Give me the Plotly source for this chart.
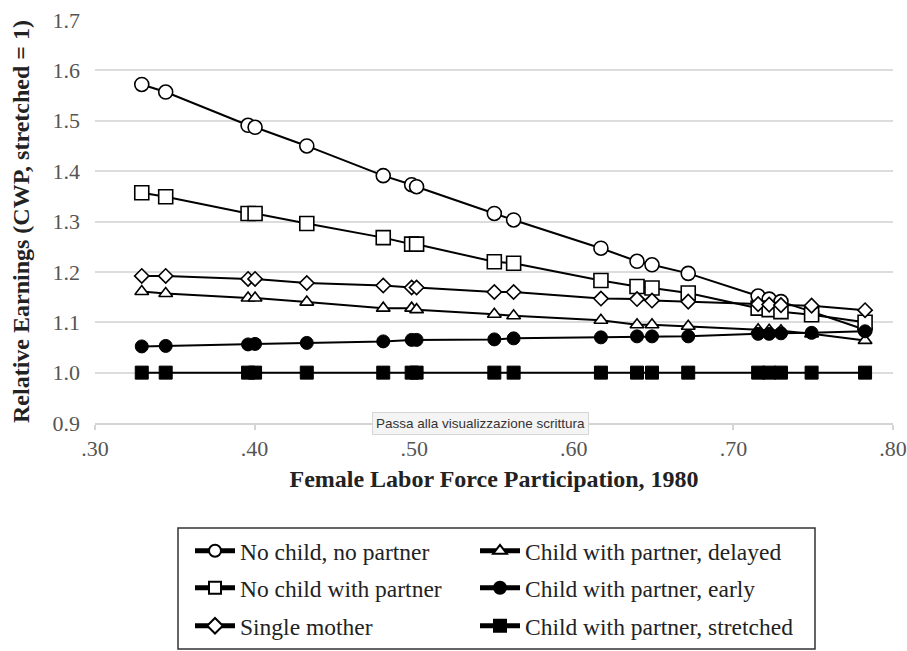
import plotly.graph_objects as go

# ---- data ----
participation = [0.3293, 0.3443, 0.3959, 0.4003, 0.4327, 0.4806, 0.4984, 0.5015, 0.5502, 0.5623,
                 0.6170, 0.6396, 0.6490, 0.6717, 0.7155, 0.7224, 0.7298, 0.7490, 0.7825]

no_child_no_partner = [1.572, 1.557, 1.491, 1.487, 1.450, 1.391, 1.373, 1.369, 1.316, 1.303,
                       1.247, 1.221, 1.214, 1.197, 1.152, 1.146, 1.141, 1.121, 1.085]
no_child_with_partner = [1.357, 1.349, 1.316, 1.316, 1.296, 1.268, 1.255, 1.255, 1.220, 1.217,
                         1.183, 1.171, 1.168, 1.158, 1.128, 1.125, 1.121, 1.115, 1.100]
single_mother = [1.192, 1.192, 1.186, 1.186, 1.178, 1.173, 1.169, 1.169, 1.160, 1.160,
                 1.147, 1.146, 1.143, 1.141, 1.136, 1.135, 1.134, 1.133, 1.124]
child_partner_delayed = [1.161, 1.157, 1.148, 1.148, 1.140, 1.128, 1.128, 1.125, 1.116, 1.113,
                         1.104, 1.095, 1.095, 1.092, 1.085, 1.084, 1.083, 1.077, 1.064]
child_partner_early = [1.052, 1.053, 1.056, 1.057, 1.059, 1.062, 1.065, 1.065, 1.066, 1.068,
                       1.070, 1.072, 1.072, 1.072, 1.077, 1.077, 1.078, 1.079, 1.082]
child_partner_stretched = [1.000] * len(participation)

series_names = ["No child, no partner", "No child with partner", "Single mother",
                "Child with partner, delayed", "Child with partner, early",
                "Child with partner, stretched"]

x_tickvals = [0.30, 0.40, 0.50, 0.60, 0.70, 0.80]
x_ticktext = [".30", ".40", ".50", ".60", ".70", ".80"]

x_title = "Female Labor Force Participation, 1980"
y_title = "Relative Earnings (CWP, stretched = 1)"
tooltip_text = "Passa alla visualizzazione scrittura"

# ---- figure geometry (body margin removed in post_script) ----
W, H = 907, 651
ML, MR, MT, MB = 95, 14, 20, 228
PW, PH = W - ML - MR, H - MT - MB


def px_x(p):
    return (p - ML) / PW


def px_y(p):
    return (H - MB - p) / PH


SERIF = "Liberation Serif"

styles = [
    dict(symbol="circle", size=14, color="white", lw=1.6),
    dict(symbol="square", size=14, color="white", lw=1.6),
    dict(symbol="diamond", size=11, color="white", lw=1.6),
    dict(symbol="triangle-up", size=12, color="white", lw=1.6),
    dict(symbol="circle", size=13, color="black", lw=1),
    dict(symbol="square", size=13, color="black", lw=1),
]
values = [no_child_no_partner, no_child_with_partner, single_mother,
          child_partner_delayed, child_partner_early, child_partner_stretched]
legend_ids = ["legend", "legend3", "legend5", "legend2", "legend4", "legend6"]

fig = go.Figure()
for name, vals, st, lg in zip(series_names, values, styles, legend_ids):
    fig.add_trace(go.Scatter(
        x=participation, y=vals, name=name, mode="lines+markers",
        line=dict(color="black", width=2),
        marker=dict(symbol=st["symbol"], size=st["size"], color=st["color"],
                    line=dict(color="black", width=st["lw"])),
        legend=lg, cliponaxis=False,
    ))

# legend positions (pixel positions of rows / columns in the page)
col_x = [190, 475]
row_y = [551, 588, 626]
legend_layout = {}
order = ["legend", "legend2", "legend3", "legend4", "legend5", "legend6"]
for i, lg in enumerate(order):
    r, c = divmod(i, 2)
    legend_layout[lg] = dict(
        x=px_x(col_x[c]), y=px_y(row_y[r]), xanchor="left", yanchor="middle",
        xref="paper", yref="paper",
        bgcolor="rgba(0,0,0,0)", borderwidth=0, itemwidth=40,
        font=dict(family=SERIF, size=23.5, color="#222222"),
        itemsizing="constant",
    )

fig.update_layout(
    width=W, height=H,
    margin=dict(l=ML, r=MR, t=MT, b=MB, autoexpand=False),
    paper_bgcolor="white", plot_bgcolor="white",
    showlegend=True,
    xaxis=dict(
        range=[0.30, 0.80], tickvals=x_tickvals, ticktext=x_ticktext,
        showgrid=False, zeroline=False, ticklabeloverflow="allow",
        showline=True, linecolor="#d4d4d4", linewidth=2,
        ticks="outside", ticklen=5, tickcolor="#d4d4d4", tickwidth=2,
        tickfont=dict(family=SERIF, size=22, color="#555555"),
        title=dict(text="<b>" + x_title + "</b>", standoff=10,
                   font=dict(family=SERIF, size=24, color="#222222")),
    ),
    yaxis=dict(
        range=[0.9, 1.7], dtick=0.1, tick0=0.9, tickformat=".1f",
        showgrid=True, gridcolor="#dcdcdc", gridwidth=2, zeroline=False,
        showline=False, ticks="", ticklabelstandoff=14, ticklabeloverflow="allow",
        tickfont=dict(family=SERIF, size=22, color="#555555"),
        title=dict(text="<b>" + y_title + "</b>", standoff=16,
                   font=dict(family=SERIF, size=24, color="#222222")),
    ),
    shapes=[dict(type="rect", xref="paper", yref="paper",
                 x0=px_x(178), x1=px_x(815), y0=px_y(649), y1=px_y(528),
                 line=dict(color="#333333", width=1.5), fillcolor="rgba(0,0,0,0)")],
    annotations=[dict(text=tooltip_text, xref="paper", yref="paper",
                      x=px_x(480), y=px_y(424), xanchor="center", yanchor="middle",
                      showarrow=False, bgcolor="#f4f4f4", bordercolor="#d6d6d6",
                      borderwidth=1, borderpad=3,
                      font=dict(family="Liberation Sans", size=13.5, color="#333333"))],
    **legend_layout,
)

fig.write_html(
    "out.html",
    config={"displayModeBar": False},
    post_script="document.body.style.margin='0';document.body.style.overflow='hidden';",
)
